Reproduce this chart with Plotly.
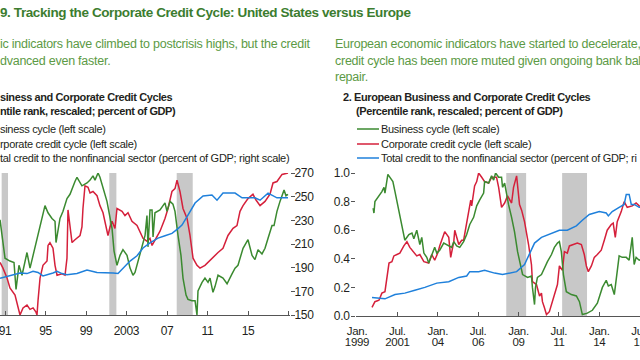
import plotly.graph_objects as go
from datetime import datetime

# ---------------- DATA ----------------
# Panel 1 (United States) - decimal years
us_bus_t = [1990.51, 1991.0, 1991.49, 1991.89, 1992.09, 1992.38, 1992.68, 1992.88, 1993.17, 1993.47,
            1993.86, 1994.26, 1994.65, 1994.95, 1995.25, 1995.64, 1995.94, 1996.04, 1996.43, 1996.73,
            1997.12, 1997.42, 1997.91, 1998.11, 1998.60, 1999.10, 1999.40, 1999.69, 1999.89, 2000.19,
            2000.38, 2000.78, 2001.07, 2001.57, 2001.77, 2002.06, 2002.36, 2002.65, 2003.05, 2003.35,
            2003.64, 2003.84, 2004.14, 2004.53, 2004.83, 2005.02, 2005.12, 2005.32, 2005.52, 2005.62,
            2005.81, 2006.31, 2006.80, 2007.00, 2007.30, 2007.59, 2007.79, 2008.09, 2008.38, 2008.58,
            2008.88, 2009.07, 2009.47, 2009.77, 2009.96, 2010.06, 2010.46, 2010.75, 2011.05, 2011.25,
            2011.54, 2011.74, 2012.04, 2012.53, 2012.93, 2013.42, 2013.72, 2014.01, 2014.51, 2015.00,
            2015.40, 2015.69, 2015.99, 2016.38, 2016.68, 2016.98, 2017.37, 2017.57, 2017.86, 2018.16,
            2018.56, 2018.75, 2018.95]
us_bus_v = [0.67, 0.40, 0.38, 0.37, 0.18, 0.35, 0.28, 0.35, 0.44, 0.33,
            0.45, 0.56, 0.68, 0.77, 0.72, 0.68, 0.66, 0.51, 0.68, 0.73,
            0.82, 0.85, 0.94, 0.97, 0.91, 0.93, 0.95, 0.98, 0.95, 1.00,
            0.97, 0.86, 0.80, 0.61, 0.45, 0.35, 0.42, 0.46, 0.42, 0.33,
            0.28, 0.30, 0.38, 0.47, 0.56, 0.70, 0.48, 0.74, 0.74, 0.55,
            0.72, 0.74, 0.79, 0.73, 0.80, 0.78, 0.73, 0.56, 0.42, 0.26,
            0.14, 0.11, 0.10, 0.10, 0.00, 0.17, 0.23, 0.26, 0.23, 0.26,
            0.16, 0.20, 0.28, 0.26, 0.22, 0.29, 0.33, 0.35, 0.47, 0.53,
            0.42, 0.39, 0.46, 0.43, 0.47, 0.54, 0.63, 0.63, 0.73, 0.80,
            0.88, 0.84, 0.85]

us_corp_t = [1990.51, 1990.80, 1991.20, 1991.49, 1991.99, 1992.28, 1992.48, 1992.78, 1993.17, 1993.47,
             1993.77, 1994.06, 1994.16, 1994.26, 1994.46, 1994.75, 1995.15, 1995.25, 1995.44, 1995.74,
             1995.94, 1996.14, 1996.63, 1996.93, 1997.12, 1997.22, 1997.42, 1997.62, 1997.91, 1998.41,
             1998.60, 1998.70, 1998.90, 1999.20, 1999.40, 1999.69, 2000.09, 2000.38, 2000.68, 2000.98,
             2001.17, 2001.37, 2001.57, 2001.86, 2002.06, 2002.56, 2002.85, 2003.15, 2003.54, 2004.04,
             2004.33, 2004.63, 2005.02, 2005.32, 2005.52, 2005.81, 2006.31, 2006.80, 2007.10, 2007.49,
             2007.79, 2007.99, 2008.28, 2008.58, 2008.98, 2009.27, 2009.57, 2009.96, 2010.26, 2010.75,
             2011.44, 2012.04, 2012.53, 2013.02, 2013.52, 2013.91, 2014.21, 2014.51, 2015.00, 2015.49,
             2015.79, 2016.19, 2016.68, 2017.17, 2017.47, 2017.86, 2018.36, 2018.95]
us_corp_v = [0.37, 0.33, 0.26, 0.19, 0.14, 0.05, 0.00, 0.05, 0.07, 0.04,
             0.05, 0.02, 0.00, 0.10, 0.26, 0.35, 0.38, 0.49, 0.51, 0.47,
             0.35, 0.28, 0.29, 0.28, 0.40, 0.74, 0.62, 0.51, 0.53, 0.56,
             0.62, 0.75, 0.91, 0.90, 0.86, 0.87, 0.84, 0.77, 0.72, 0.63,
             0.56, 0.62, 0.66, 0.61, 0.75, 0.73, 0.70, 0.72, 0.66, 0.63,
             0.58, 0.54, 0.52, 0.54, 0.49, 0.53, 0.59, 0.68, 0.75, 0.87,
             0.89, 0.95, 0.87, 0.75, 0.68, 0.56, 0.40, 0.35, 0.33, 0.35,
             0.40, 0.44, 0.47, 0.56, 0.61, 0.63, 0.73, 0.77, 0.82, 0.85,
             0.81, 0.77, 0.80, 0.85, 0.93, 0.94, 0.99, 1.00]

us_cred_t = [1990.51, 1991.79, 1992.48, 1993.17, 1993.77, 1994.26, 1994.75, 1995.74, 1996.14, 1996.63,
             1997.12, 1998.11, 1999.10, 2000.09, 2000.88, 2001.67, 2002.16, 2002.65, 2003.35, 2004.04,
             2004.63, 2005.32, 2006.11, 2006.80, 2007.49, 2008.09, 2008.48, 2009.07, 2009.47, 2009.77,
             2010.56, 2011.44, 2011.94, 2012.53, 2013.72, 2014.41, 2015.69, 2016.19, 2016.98, 2017.86,
             2018.95]
us_cred_v = [181, 184, 185.5, 185, 187, 186, 183, 185.5, 187, 185,
             184, 185, 188, 186, 186, 185.5, 185, 189.7, 195.6, 200,
             206.6, 211, 215, 217, 219, 223, 226, 234.5, 240, 244.6,
             250.6, 251.4, 247, 253, 253, 249, 249, 247, 253, 249,
             249]

us_rec_start = [1990.67, 2001.30, 2007.96]
us_rec_end = [1991.30, 2002.00, 2009.54]

# Panel 2 (Europe)
eu_bus_t = [2000.00, 2000.05, 2000.11, 2000.36, 2000.54, 2000.67, 2000.73, 2000.91, 2001.04, 2001.22,
            2001.35, 2001.47, 2001.59, 2001.72, 2001.96, 2002.21, 2002.40, 2002.52, 2002.70, 2002.89,
            2003.01, 2003.14, 2003.32, 2003.44, 2003.63, 2003.81, 2003.94, 2004.12, 2004.37, 2004.68,
            2004.86, 2004.99, 2005.17, 2005.36, 2005.60, 2005.79, 2005.98, 2006.22, 2006.41, 2006.59,
            2006.84, 2006.90, 2007.15, 2007.33, 2007.46, 2007.58, 2007.77, 2007.95, 2008.01, 2008.14,
            2008.26, 2008.38, 2008.57, 2008.75, 2008.94, 2009.12, 2009.25, 2009.56, 2009.80, 2009.86,
            2009.99, 2010.05, 2010.17, 2010.42, 2010.60, 2010.79, 2011.04, 2011.22, 2011.41, 2011.53,
            2011.65, 2011.78, 2011.96, 2012.27, 2012.58, 2012.77, 2012.95, 2013.26, 2013.57, 2013.88,
            2014.19, 2014.43, 2014.56, 2014.74, 2014.93, 2015.05, 2015.23, 2015.42, 2015.67, 2015.85,
            2016.04, 2016.16, 2016.28, 2016.47, 2016.70]
eu_bus_v = [0.755, 0.72, 0.80, 0.84, 0.87, 0.90, 0.86, 0.99, 0.97, 0.94,
            0.87, 0.80, 0.73, 0.65, 0.53, 0.57, 0.58, 0.54, 0.60, 0.50,
            0.55, 0.44, 0.41, 0.37, 0.43, 0.48, 0.44, 0.46, 0.51, 0.49,
            0.48, 0.52, 0.49, 0.48, 0.52, 0.57, 0.64, 0.69, 0.77, 0.81,
            0.86, 0.94, 0.93, 0.98, 0.95, 1.00, 0.97, 0.97, 0.90, 0.93,
            0.85, 0.78, 0.69, 0.59, 0.45, 0.36, 0.29, 0.27, 0.28, 0.20,
            0.08, 0.20, 0.27, 0.29, 0.34, 0.38, 0.43, 0.48, 0.51, 0.52,
            0.45, 0.29, 0.17, 0.15, 0.14, 0.10, 0.01, 0.02, 0.04, 0.09,
            0.20, 0.25, 0.21, 0.22, 0.15, 0.27, 0.42, 0.41, 0.41, 0.39,
            0.55, 0.36, 0.41, 0.39, 0.40]

eu_corp_t = [1999.93, 2000.11, 2000.36, 2000.54, 2000.73, 2000.85, 2000.98, 2001.16, 2001.28, 2001.47,
             2001.65, 2001.90, 2002.09, 2002.27, 2002.52, 2002.70, 2002.89, 2003.14, 2003.44, 2003.63,
             2003.81, 2004.00, 2004.12, 2004.25, 2004.43, 2004.68, 2004.80, 2004.99, 2005.05, 2005.30,
             2005.48, 2005.60, 2005.79, 2005.91, 2006.04, 2006.10, 2006.28, 2006.41, 2006.53, 2006.72,
             2006.90, 2007.15, 2007.33, 2007.64, 2007.77, 2007.95, 2008.14, 2008.32, 2008.57, 2008.69,
             2008.88, 2009.06, 2009.19, 2009.37, 2009.49, 2009.62, 2009.80, 2009.86, 2010.11, 2010.30,
             2010.42, 2010.48, 2010.60, 2010.73, 2010.91, 2011.04, 2011.22, 2011.41, 2011.53, 2011.72,
             2011.84, 2012.02, 2012.15, 2012.46, 2012.64, 2012.89, 2013.07, 2013.20, 2013.32, 2013.51,
             2013.69, 2013.88, 2014.12, 2014.31, 2014.49, 2014.74, 2014.86, 2014.99, 2015.11, 2015.36,
             2015.54, 2015.73, 2016.04, 2016.28, 2016.47, 2016.70]
eu_corp_v = [0.06, 0.10, 0.11, 0.16, 0.17, 0.27, 0.37, 0.38, 0.42, 0.43,
             0.44, 0.49, 0.52, 0.48, 0.44, 0.42, 0.43, 0.38, 0.37, 0.43,
             0.39, 0.44, 0.49, 0.53, 0.59, 0.55, 0.41, 0.52, 0.60, 0.50,
             0.53, 0.53, 0.66, 0.73, 0.81, 0.77, 0.91, 0.94, 1.00, 0.97,
             0.94, 0.93, 0.97, 0.97, 0.90, 0.76, 0.79, 0.84, 0.79, 0.90,
             0.98, 0.78, 0.74, 0.66, 0.59, 0.50, 0.36, 0.24, 0.22, 0.14,
             0.16, 0.10, 0.06, 0.01, 0.03, 0.08, 0.14, 0.22, 0.35, 0.32,
             0.45, 0.44, 0.49, 0.50, 0.51, 0.50, 0.43, 0.35, 0.31, 0.35,
             0.41, 0.43, 0.46, 0.53, 0.60, 0.64, 0.65, 0.55, 0.66, 0.73,
             0.80, 0.76, 0.77, 0.79, 0.77, 0.76]

eu_cred_t = [1999.93, 2000.73, 2001.35, 2001.96, 2002.58, 2003.20, 2003.94, 2004.68, 2005.30, 2005.79,
             2005.98, 2006.53, 2006.90, 2007.52, 2008.01, 2008.88, 2009.37, 2009.68, 2009.99, 2010.42,
             2011.04, 2011.53, 2012.02, 2012.58, 2012.95, 2013.38, 2014.00, 2014.43, 2014.56, 2014.80,
             2015.23, 2015.54, 2015.67, 2015.85, 2015.98, 2016.16, 2016.47, 2016.70]
eu_cred_v = [165.6, 164.4, 168.0, 169.2, 171.6, 174.0, 177.6, 178.8, 182.4, 183.6,
             187.2, 187.2, 188.4, 186.0, 184.8, 187.2, 193.2, 202.8, 211.2, 216.0,
             219.6, 222.0, 222.0, 225.6, 230.4, 235.2, 237.6, 236.4, 234.0, 237.6,
             241.2, 243.6, 252.0, 252.0, 243.6, 243.6, 241.2, 241.0]

eu_rec_start = [2008.24, 2011.70]
eu_rec_end = [2009.47, 2013.24]

us_tick_years = [1991, 1995, 1999, 2003, 2007, 2011, 2015, 2019]
us_tick_text = ["91", "95", "99", "2003", "07", "11", "15", ""]
eu_tick_years = [1999.0, 2001.5, 2004.0, 2006.5, 2009.0, 2011.5, 2014.0, 2016.5]
eu_tick_month = ["Jan.", "Jul.", "Jan.", "Jul.", "Jan.", "Jul.", "Jan.", "Jul."]
eu_tick_year = ["1999", "2001", "04", "06", "09", "11", "14", "16"]
us_right_ticks = [150, 170, 190, 210, 230, 250, 270]
eu_left_ticks = [0.0, 0.2, 0.4, 0.6, 0.8, 1.0]
eu_left_text = ["0.0", "0.2", "0.4", "0.6", "0.8", "1.0"]

# ---------------- STYLE ----------------
W, H = 640, 360
FONT = "Liberation Sans, Arial, sans-serif"
GREEN = "#3b8a30"
RED = "#d5203b"
BLUE = "#1f80db"
SHADE = "#c8c8c8"
TXT = "#231f20"
AXC = "#555555"
TITLE_GREEN = "#3c7d2f"
SUB_GREEN = "#5c9a45"


def dy(y):
    yr = int(y)
    frac = y - yr
    a = datetime(yr, 1, 1)
    b = datetime(yr + 1, 1, 1)
    return a + (b - a) * frac


def dl(lst):
    return [dy(v) for v in lst]


def px(x):
    return x / W


def py(y):
    return 1 - y / H


def sp(s, ls):
    return '<span style="letter-spacing:%.2fpx">%s</span>' % (ls, s)


fig = go.Figure()
lw = 1.5
fig.add_trace(go.Scatter(x=dl(us_cred_t), y=us_cred_v, mode="lines", line=dict(color=BLUE, width=lw),
                         xaxis="x", yaxis="y2", showlegend=False))
fig.add_trace(go.Scatter(x=dl(us_corp_t), y=us_corp_v, mode="lines", line=dict(color=RED, width=lw),
                         xaxis="x", yaxis="y", showlegend=False))
fig.add_trace(go.Scatter(x=dl(us_bus_t), y=us_bus_v, mode="lines", line=dict(color=GREEN, width=lw),
                         xaxis="x", yaxis="y", showlegend=False))

fig.add_trace(go.Scatter(x=dl(eu_cred_t), y=eu_cred_v, mode="lines", line=dict(color=BLUE, width=lw),
                         xaxis="x2", yaxis="y4", showlegend=False))
fig.add_trace(go.Scatter(x=dl(eu_corp_t), y=eu_corp_v, mode="lines", line=dict(color=RED, width=lw),
                         xaxis="x2", yaxis="y3", showlegend=False))
fig.add_trace(go.Scatter(x=dl(eu_bus_t), y=eu_bus_v, mode="lines", line=dict(color=GREEN, width=lw),
                         xaxis="x2", yaxis="y3", showlegend=False))
# carrier for the second row of date labels in panel 2
fig.add_trace(go.Scatter(x=[], y=[], mode="lines", xaxis="x3", yaxis="y3", showlegend=False,
                         hoverinfo="skip"))

shapes = []
for s, e in zip(us_rec_start, us_rec_end):
    shapes.append(dict(type="rect", xref="x", yref="y domain", x0=dy(s), x1=dy(e), y0=0, y1=1,
                       fillcolor=SHADE, line=dict(width=0), layer="below"))
for s, e in zip(eu_rec_start, eu_rec_end):
    shapes.append(dict(type="rect", xref="x2", yref="y3 domain", x0=dy(s), x1=dy(e), y0=0, y1=1,
                       fillcolor=SHADE, line=dict(width=0), layer="below"))

# legend samples (panel 2)
leg_y = [129, 144, 158]
for yy, c in zip(leg_y, [GREEN, RED, BLUE]):
    shapes.append(dict(type="line", xref="paper", yref="paper", x0=px(357), x1=px(379),
                       y0=py(yy), y1=py(yy), line=dict(color=c, width=1.5)))

ann = []


def txt(x, y, s, size, color=TXT, bold=False, ls=0.0):
    s = sp(s, ls)
    if bold:
        s = "<b>" + s + "</b>"
    ann.append(dict(x=px(x), y=py(y), xref="paper", yref="paper", text=s, showarrow=False,
                    xanchor="left", yanchor="middle", font=dict(family=FONT, size=size, color=color),
                    borderpad=0, borderwidth=0))


txt(0, 13, "9. Tracking the Corporate Credit Cycle: United States versus Europe", 13.5, TITLE_GREEN, True, -0.4)
txt(0, 44, "ic indicators have climbed to postcrisis highs, but the credit", 12.5, SUB_GREEN, False, -0.25)
txt(0, 61, "dvanced even faster.", 12.5, SUB_GREEN, False, -0.25)
txt(335, 44, "European economic indicators have started to decelerate, w", 12.5, SUB_GREEN, False, -0.25)
txt(335, 61, "credit cycle has been more muted given ongoing bank bala", 12.5, SUB_GREEN, False, -0.25)
txt(335, 77, "repair.", 12.5, SUB_GREEN, False, -0.25)

txt(0, 97, "siness and Corporate Credit Cycles", 11, TXT, True, -0.4)
txt(0, 111, "ntile rank, rescaled; percent of GDP)", 11, TXT, True, -0.4)
txt(0, 129, "siness cycle (left scale)", 11, TXT, False, -0.3)
txt(0, 144, "rporate credit cycle (left scale)", 11, TXT, False, -0.3)
txt(0, 158, "tal credit to the nonfinancial sector (percent of GDP; right scale)", 11, TXT, False, -0.3)

txt(343, 97, "2. European Business and Corporate Credit Cycles", 11, TXT, True, -0.4)
txt(356, 111, "(Percentile rank, rescaled; percent of GDP)", 11, TXT, True, -0.4)
txt(381, 129, "Business cycle (left scale)", 11, TXT, False, -0.3)
txt(381, 144, "Corporate credit cycle (left scale)", 11, TXT, False, -0.3)
txt(381, 158, "Total credit to the nonfinancial sector (percent of GDP; ri", 11, TXT, False, -0.3)

tickfont = dict(family=FONT, size=12, color=TXT)
tickfont2 = dict(family=FONT, size=11.5, color=TXT)
TLS = -0.3
ydom = [1 - 315 / H, 1 - 173 / H]
ydom2 = [1 - 316 / H, 1 - 173 / H]
xr2 = [dy(1998.938), dy(2016.52)]

fig.update_layout(
    template="none",
    width=W, height=H, margin=dict(l=0, r=0, t=0, b=0, pad=0),
    paper_bgcolor="white", plot_bgcolor="white",
    shapes=shapes, annotations=ann, showlegend=False,
    xaxis=dict(domain=[0, 290 / W], type="date", range=[dy(1990.506), dy(2019.148)],
               tickvals=dl(us_tick_years), ticktext=[sp(t, TLS) for t in us_tick_text],
               ticks="inside", ticklen=4, tickwidth=1,
               tickcolor=AXC, showline=True, linecolor=AXC, linewidth=1, showgrid=False,
               zeroline=False, tickfont=tickfont, anchor="y", automargin=False, ticklabelstandoff=5,
               ticklabeloverflow="allow"),
    yaxis=dict(domain=ydom, range=[0, 1], visible=False, fixedrange=True, automargin=False),
    yaxis2=dict(domain=ydom, range=[150, 270], overlaying="y", side="right", anchor="x",
                tickvals=us_right_ticks, ticktext=[sp(str(t), TLS) for t in us_right_ticks],
                ticks="outside", ticklen=4, tickwidth=1, tickcolor=AXC,
                showline=False, showgrid=False, zeroline=False, tickfont=tickfont, automargin=False,
                ticklabelstandoff=-3),
    xaxis2=dict(domain=[356 / W, 1.0], type="date", range=xr2,
                tickvals=dl(eu_tick_years), ticktext=[sp(t, TLS) for t in eu_tick_month],
                ticks="inside", ticklen=4, tickwidth=1,
                tickcolor=AXC, showline=True, linecolor=AXC, linewidth=1, showgrid=False,
                zeroline=False, tickfont=tickfont2, anchor="y3", automargin=False, ticklabelstandoff=4,
                ticklabeloverflow="allow"),
    xaxis3=dict(overlaying="x2", type="date", range=xr2, anchor="y3", side="bottom",
                tickvals=dl(eu_tick_years), ticktext=[sp(t, TLS) for t in eu_tick_year],
                ticks="", showline=False, showgrid=False, zeroline=False, tickfont=tickfont2,
                automargin=False, ticklabelstandoff=17, ticklabeloverflow="allow"),
    yaxis3=dict(domain=ydom2, range=[0, 1], anchor="x2", side="left",
                tickvals=eu_left_ticks, ticktext=[sp(t, TLS) for t in eu_left_text],
                ticks="outside", ticklen=4, tickwidth=1,
                tickcolor=AXC, showline=False, showgrid=False, zeroline=False, tickfont=tickfont,
                automargin=False, ticklabelstandoff=-1),
    yaxis4=dict(domain=ydom2, range=[150, 270], overlaying="y3", side="right", anchor="x2",
                visible=False, automargin=False),
)

fig.write_html("out.html", config={"displayModeBar": False, "staticPlot": True},
               post_script="document.body.style.margin='0px';document.body.style.overflow='hidden';")
